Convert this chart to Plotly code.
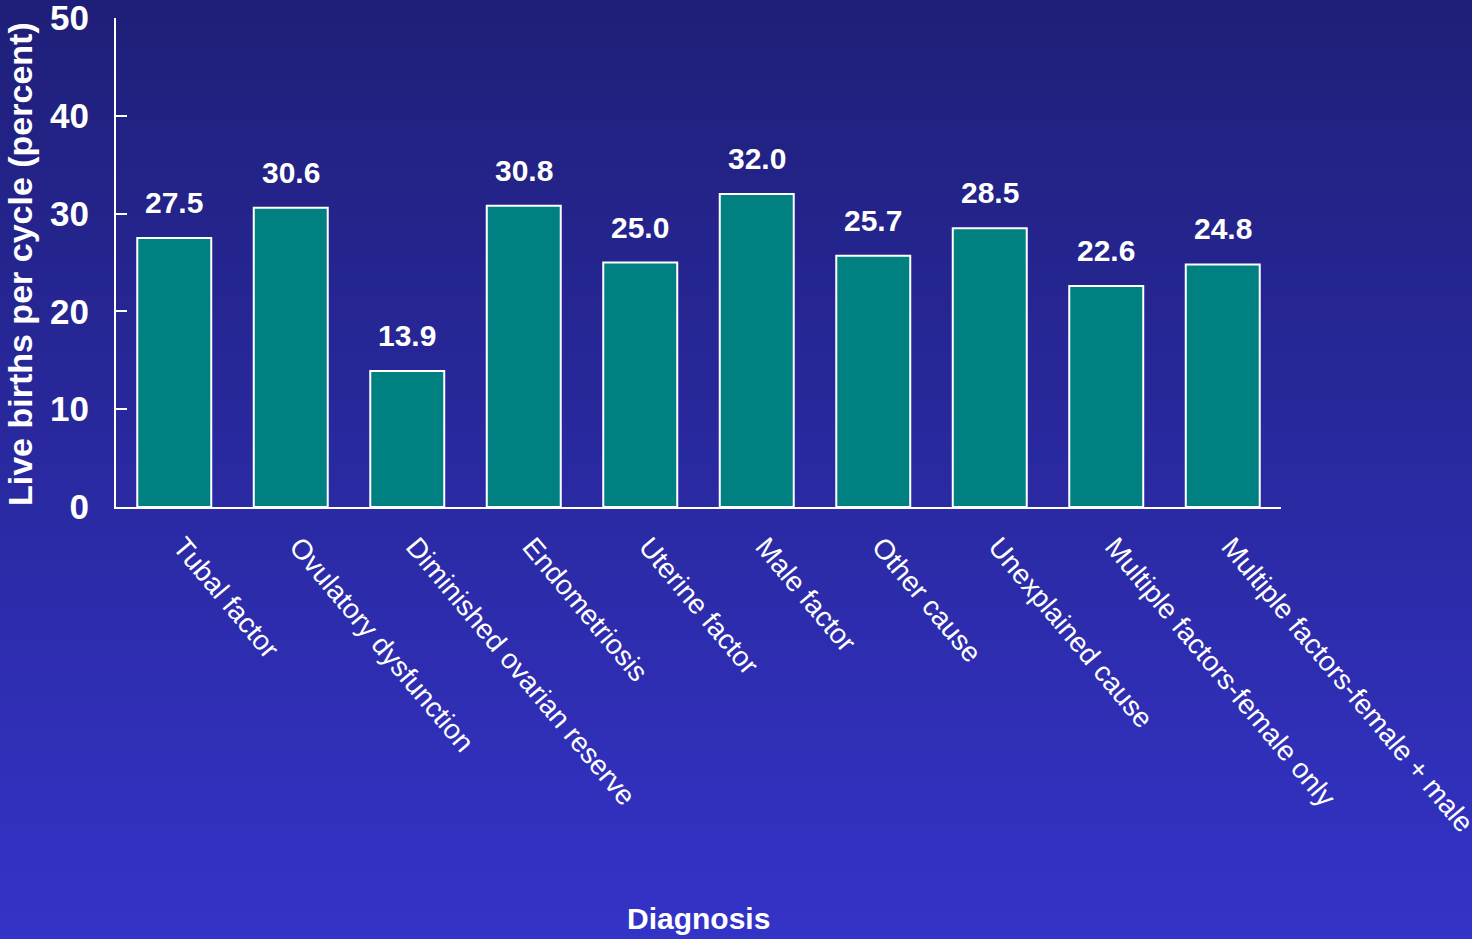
import base64
import struct
import zlib

import plotly.graph_objects as go

# Diagnosis categories and live-birth rates (percent per cycle)
categories = [
    "Tubal factor",
    "Ovulatory dysfunction",
    "Diminished ovarian reserve",
    "Endometriosis",
    "Uterine factor",
    "Male factor",
    "Other cause",
    "Unexplained cause",
    "Multiple factors-female only",
    "Multiple factors-female + male",
]
values = [27.5, 30.6, 13.9, 30.8, 25.0, 32.0, 25.7, 28.5, 22.6, 24.8]
y_ticks = [0, 10, 20, 30, 40, 50]

W, H = 1472, 939
L, R, T, B = 116, 191, 18, 432
plot_w, plot_h = W - L - R, H - T - B

TOP_RGB = (31, 31, 121)
BOTTOM_RGB = (52, 51, 200)


def gradient_png(height=256):
    """Build a 1-pixel-wide vertical gradient PNG as a data URI."""
    rows = b""
    for i in range(height):
        t = i / (height - 1)
        px = bytes(round(a + (b - a) * t) for a, b in zip(TOP_RGB, BOTTOM_RGB))
        rows += b"\x00" + px

    def chunk(tag, data):
        c = struct.pack(">I", len(data)) + tag + data
        return c + struct.pack(">I", zlib.crc32(tag + data) & 0xFFFFFFFF)

    png = b"\x89PNG\r\n\x1a\n"
    png += chunk(b"IHDR", struct.pack(">IIBBBBB", 1, height, 8, 2, 0, 0, 0))
    png += chunk(b"IDAT", zlib.compress(rows))
    png += chunk(b"IEND", b"")
    return "data:image/png;base64," + base64.b64encode(png).decode()


FONT = "Liberation Sans, Arial, sans-serif"


def px_to_paper_y(py):
    return (H - B - py) / plot_h


def px_to_paper_x(px):
    return (px - L) / plot_w


fig = go.Figure(
    go.Bar(
        x=categories,
        y=values,
        width=0.635,
        marker=dict(color="#008080", line=dict(color="white", width=2)),
        hoverinfo="x+y",
    )
)

# value labels above each bar
for c, v in zip(categories, values):
    fig.add_annotation(
        x=c, y=v, text=f"{v:.1f}", showarrow=False,
        xanchor="center", yanchor="bottom", yshift=17,
        font=dict(family=FONT, size=30, color="white", weight="bold"),
    )

# axis titles
fig.add_annotation(
    xref="paper", yref="paper", x=0.5, y=px_to_paper_y(918),
    text="Diagnosis", showarrow=False, xanchor="center", yanchor="middle",
    font=dict(family=FONT, size=30, color="white", weight="bold"),
)
fig.add_annotation(
    xref="paper", yref="paper", x=px_to_paper_x(20), y=px_to_paper_y(264),
    text="Live births per cycle (percent)", showarrow=False, textangle=-90,
    xanchor="center", yanchor="middle",
    font=dict(family=FONT, size=34, color="white", weight="bold"),
)

fig.update_layout(
    width=W, height=H,
    margin=dict(l=L, r=R, t=T, b=B, autoexpand=False),
    paper_bgcolor="#2a2aa0",
    plot_bgcolor="rgba(0,0,0,0)",
    showlegend=False,
    images=[dict(
        source=gradient_png(), xref="paper", yref="paper",
        x=-L / plot_w, y=1 + T / plot_h, sizex=W / plot_w, sizey=H / plot_h,
        xanchor="left", yanchor="top", sizing="stretch", layer="below",
    )],
    xaxis=dict(
        showline=True, linecolor="white", linewidth=2, showgrid=False,
        ticks="", tickangle=50, ticklabelstandoff=10, ticklabelshift=8,
        ticklabeloverflow="allow",
        tickfont=dict(family=FONT, size=28, color="white"),
        automargin=False,
    ),
    yaxis=dict(
        range=[0, 50], tickvals=y_ticks, showline=True, linecolor="white",
        linewidth=2, showgrid=False, zeroline=False,
        ticks="inside", ticklen=11, tickwidth=2, tickcolor="white",
        ticklabelstandoff=18, ticklabeloverflow="allow",
        tickfont=dict(family=FONT, size=35, color="white", weight="bold"),
        automargin=False,
    ),
)

fig.write_html("out.html")
